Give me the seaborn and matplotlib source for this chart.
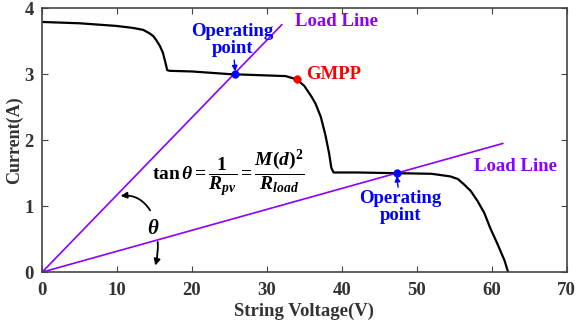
import numpy as np
import pandas as pd
import matplotlib
matplotlib.use("Agg")
import matplotlib.pyplot as plt
import seaborn as sns

# I-V curve of the string
volt = [0, 5, 9.9, 12.1, 13.5, 14.3, 14.8, 15.2, 15.7, 16.1, 16.4, 16.7, 17.0, 20, 25,
        30, 32.5, 34.0, 35.0, 36.0, 36.5, 37.2, 37.8, 38.3, 38.6, 38.9, 42, 47, 52,
        54.5, 55.5, 56.3, 57.2, 58.1, 59.0, 59.8, 60.8, 61.7, 62.2]
curr = [3.79, 3.77, 3.73, 3.70, 3.67, 3.62, 3.58, 3.52, 3.43, 3.33, 3.20, 3.06, 3.05,
        3.04, 3.0, 2.98, 2.97, 2.92, 2.82, 2.65, 2.55, 2.35, 2.08, 1.80, 1.58, 1.51,
        1.51, 1.50, 1.49, 1.45, 1.41, 1.33, 1.23, 1.08, 0.90, 0.67, 0.42, 0.18, 0.0]

# load lines (from origin)
load1_v = [0, 32.0]
load1_i = [0, 3.75]
load2_v = [0, 61.5]
load2_i = [0, 1.95]

op_v = [25.8, 47.3]
op_i = [3.0, 1.5]
gmpp_v = [34.0]
gmpp_i = [2.92]

sns.set_style("ticks")
plt.rcParams['font.family'] = ['Liberation Serif', 'DejaVu Serif']
plt.rcParams['font.weight'] = 'bold'
plt.rcParams['mathtext.fontset'] = 'custom'
plt.rcParams['mathtext.rm'] = 'Liberation Serif:bold'
plt.rcParams['mathtext.it'] = 'Liberation Serif:bold:italic'
plt.rcParams['mathtext.bf'] = 'Liberation Serif:bold'

purple = '#8B00FF'
blue = '#0000FF'
red = '#FF0000'

fig, ax = plt.subplots(figsize=(5.77, 3.24), dpi=100)

sns.lineplot(x=volt, y=curr, ax=ax, color='black', lw=1.6, sort=False)
sns.lineplot(x=load1_v, y=load1_i, ax=ax, color=purple, lw=1.2)
sns.lineplot(x=load2_v, y=load2_i, ax=ax, color=purple, lw=1.2)
sns.scatterplot(x=op_v, y=op_i, ax=ax, color=blue, s=30, edgecolor=blue, zorder=5)
sns.scatterplot(x=gmpp_v, y=gmpp_i, ax=ax, color=red, s=30, edgecolor=red, zorder=5)

ax.set_xlim(0, 70)
ax.set_ylim(0, 4)
ax.set_xticks(range(0, 71, 10))
ax.set_yticks(range(0, 5))
ax.tick_params(direction='in', top=True, right=True, labelsize=13.5, length=4,
               color='#444444')
ax.tick_params(axis='x', pad=7)
ax.tick_params(axis='y', pad=6)
for lab in ax.get_xticklabels() + ax.get_yticklabels():
    lab.set_fontweight('bold')
    lab.set_color('#333333')
for sp in ax.spines.values():
    sp.set_color('#444444')
    sp.set_linewidth(1.2)
ax.set_xlabel('String Voltage(V)', fontsize=13.5, fontweight='bold', color='#333333', labelpad=3)
ax.set_ylabel('Current(A)', fontsize=13, fontweight='bold', color='#333333', labelpad=1)

ax.text(33.7, 3.8, 'Load Line', color=purple, fontsize=13.5, fontweight='bold', va='center')
ax.text(57.6, 1.6, 'Load Line', color=purple, fontsize=13.5, fontweight='bold', va='center')
ax.text(35.2, 3.0, 'GMPP', color=red, fontsize=13.5, fontweight='bold', va='center')

ax.annotate('Operating\npoint', xy=(op_v[0], op_i[0]), xytext=(25.4, 3.52),
            color=blue, fontsize=13.5, fontweight='bold', ha='center', va='center',
            linespacing=1.0,
            arrowprops=dict(arrowstyle='-|>', color=blue, lw=1, shrinkA=14, shrinkB=2,
                            mutation_scale=8))
ax.annotate('Operating\npoint', xy=(op_v[1], op_i[1]), xytext=(47.8, 0.98),
            color=blue, fontsize=13.5, fontweight='bold', ha='center', va='center',
            linespacing=1.0,
            arrowprops=dict(arrowstyle='-|>', color=blue, lw=1, shrinkA=14, shrinkB=2,
                            mutation_scale=8))

ax.text(14.6, 1.5, r'$\mathrm{tan}\,\theta = \dfrac{1}{R_{pv}} = \dfrac{M(d)^2}{R_{load}}$',
        fontsize=14, color='black', va='center')

ax.text(14.8, 0.65, r'$\theta$', fontsize=15, color='black', ha='center', va='center')
ax.annotate('', xy=(10.1, 1.15), xytext=(14.6, 0.9),
            arrowprops=dict(arrowstyle='-|>', color='black', lw=1.3,
                            connectionstyle='arc3,rad=0.35', mutation_scale=9))
ax.annotate('', xy=(15.0, 0.06), xytext=(15.4, 0.5),
            arrowprops=dict(arrowstyle='-|>', color='black', lw=1.3,
                            connectionstyle='arc3,rad=-0.1', mutation_scale=9))

fig.subplots_adjust(left=0.073, right=0.982, top=0.975, bottom=0.16)
fig.savefig('out.png', dpi=100)
